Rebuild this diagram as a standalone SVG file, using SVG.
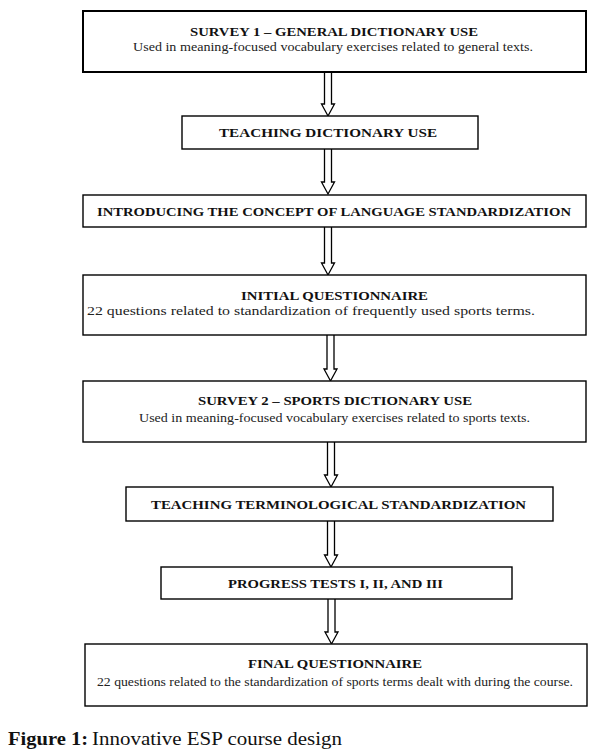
<svg xmlns="http://www.w3.org/2000/svg" width="594" height="755" viewBox="0 0 594 755">
<style>
.box{fill:#fff;stroke:#000;stroke-width:1.4}
.t{font-family:"Liberation Serif","Times New Roman",serif;font-weight:bold;font-size:13.5px;fill:#111;text-anchor:middle}
.s{font-family:"Liberation Serif","Times New Roman",serif;font-size:11.5px;fill:#222;text-anchor:middle}
.arr{fill:#fff;stroke:#000;stroke-width:1.3;stroke-linejoin:miter}
.cap{font-family:"Liberation Serif","Times New Roman",serif;font-size:18px;fill:#111}
</style>
<rect width="594" height="755" fill="#fff"/>
<g id="connectors">
<path class="arr" d="M324.5,72 V104 H321.5 L328,116 L334.5,104 H331.5 V72"/>
<path class="arr" d="M324.5,149 V182 H321.5 L328,194 L334.5,182 H331.5 V149"/>
<path class="arr" d="M324.5,227 V263 H321.5 L328,275 L334.5,263 H331.5 V227"/>
<path class="arr" d="M327,335 V369 H324 L330.5,381 L337,369 H334 V335"/>
<path class="arr" d="M327.5,442 V475 H324.5 L331,487 L337.5,475 H334.5 V442"/>
<path class="arr" d="M327.5,521 V555 H324.5 L331,567 L337.5,555 H334.5 V521"/>
<path class="arr" d="M328,599 V632 H325 L331.5,644 L338,632 H335 V599"/>
</g>
<g id="n1">
<rect class="box" x="83" y="11" width="503" height="61" style="stroke-width:2"/>
<text class="t" x="334" y="36" textLength="288" lengthAdjust="spacingAndGlyphs">SURVEY 1 – GENERAL DICTIONARY USE</text>
<text class="s" x="333" y="51" textLength="400" lengthAdjust="spacingAndGlyphs">Used in meaning-focused vocabulary exercises related to general texts.</text>
</g>
<g id="n2">
<rect class="box" x="182" y="116" width="296" height="33"/>
<text class="t" x="328" y="137" textLength="218" lengthAdjust="spacingAndGlyphs">TEACHING DICTIONARY USE</text>
</g>
<g id="n3">
<rect class="box" x="83" y="195" width="503" height="32"/>
<text class="t" x="334" y="216" textLength="474" lengthAdjust="spacingAndGlyphs">INTRODUCING THE CONCEPT OF LANGUAGE STANDARDIZATION</text>
</g>
<g id="n4">
<rect class="box" x="83" y="275" width="503" height="60"/>
<text class="t" x="334.5" y="300" textLength="187" lengthAdjust="spacingAndGlyphs">INITIAL QUESTIONNAIRE</text>
<text class="s" x="311" y="315" textLength="448" lengthAdjust="spacingAndGlyphs">22 questions related to standardization of frequently used sports terms.</text>
</g>
<g id="n5">
<rect class="box" x="83" y="381" width="503" height="61"/>
<text class="t" x="335" y="405" textLength="274" lengthAdjust="spacingAndGlyphs">SURVEY 2 – SPORTS DICTIONARY USE</text>
<text class="s" x="334.5" y="422" textLength="391" lengthAdjust="spacingAndGlyphs">Used in meaning-focused vocabulary exercises related to sports texts.</text>
</g>
<g id="n6">
<rect class="box" x="126" y="487" width="427" height="34"/>
<text class="t" x="338.5" y="509" textLength="375" lengthAdjust="spacingAndGlyphs">TEACHING TERMINOLOGICAL STANDARDIZATION</text>
</g>
<g id="n7">
<rect class="box" x="161" y="567" width="351" height="32"/>
<text class="t" x="335.5" y="588" textLength="215" lengthAdjust="spacingAndGlyphs">PROGRESS TESTS I, II, AND III</text>
</g>
<g id="n8">
<rect class="box" x="85" y="644" width="502" height="62"/>
<text class="t" x="335" y="668" textLength="174" lengthAdjust="spacingAndGlyphs">FINAL QUESTIONNAIRE</text>
<text class="s" x="335" y="686" textLength="476" lengthAdjust="spacingAndGlyphs">22 questions related to the standardization of sports terms dealt with during the course.</text>
</g>
<g id="caption">
<text class="cap" x="8" y="745"><tspan font-weight="bold" textLength="80" lengthAdjust="spacingAndGlyphs">Figure 1:</tspan><tspan x="92" textLength="250" lengthAdjust="spacingAndGlyphs">Innovative ESP course design</tspan></text>
</g>
</svg>
